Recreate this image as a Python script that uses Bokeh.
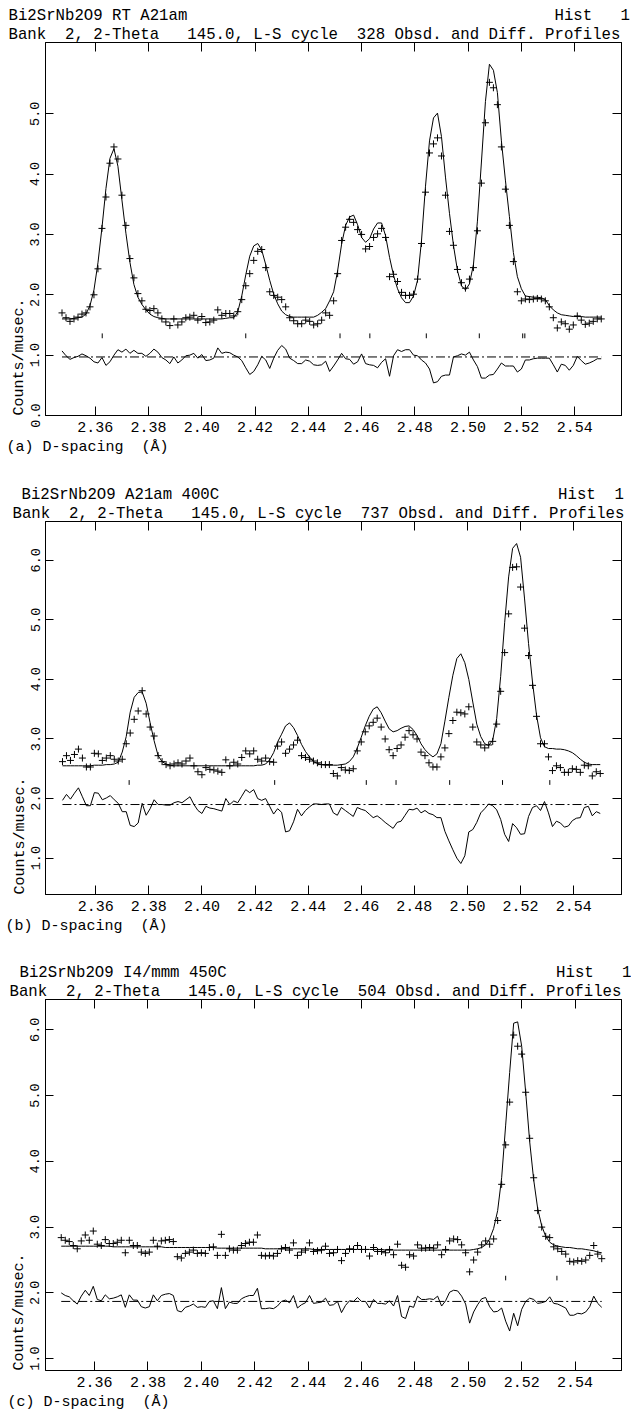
import re
import numpy as np
from bokeh.plotting import figure
from bokeh.layouts import column
from bokeh.models import Range1d, LinearAxis, FixedTicker, NumeralTickFormatter, Title
from bokeh.embed import file_html
from bokeh.resources import INLINE

# ---------------- data ----------------
D_START = 2.3475
D_STEP = 0.0015
X_TICKS = [2.36, 2.38, 2.40, 2.42, 2.44, 2.46, 2.48, 2.50, 2.52, 2.54]

# panel (a)  RT A21am
obs_a = [1.70, 1.62, 1.56, 1.60, 1.63, 1.68, 1.70, 1.80, 2.00, 2.43, 3.10, 3.62, 4.18, 4.45,
         4.25, 3.65, 3.15, 2.60, 2.28, 2.02, 1.90, 1.76, 1.74, 1.77, 1.70, 1.60,
         1.55, 1.49, 1.60, 1.50, 1.55, 1.62, 1.63, 1.66, 1.58, 1.64, 1.54, 1.55, 1.58, 1.75, 1.66, 1.69, 1.69, 1.65,
         1.72, 1.92, 2.15, 2.35, 2.57, 2.72, 2.75, 2.45, 2.05, 1.99, 1.96, 1.92, 1.80, 1.62, 1.57,
         1.52, 1.52, 1.58, 1.56,
         1.50, 1.52, 1.58, 1.70, 1.66, 1.90, 2.35, 2.90, 3.12, 3.25,
         3.20, 3.08, 3.00, 2.76, 2.80, 2.95, 3.01, 3.10, 2.95, 2.30, 2.34, 2.22, 2.04, 1.99, 1.99, 2.01,
         2.26, 2.85, 3.70, 4.35, 4.50, 4.60, 4.30, 3.65, 3.05, 2.82, 2.42, 2.20, 2.11,
         2.26, 2.45, 3.06, 3.85, 4.85, 5.52, 5.43, 5.15, 4.45, 3.75, 3.15, 2.55,
         2.05, 1.90, 1.93, 1.92, 1.93, 1.94, 1.93, 1.90, 1.80, 1.62, 1.45, 1.55, 1.52,
         1.43, 1.50, 1.65, 1.58, 1.51, 1.53, 1.56, 1.60, 1.60]
calc_a = [1.60, 1.60, 1.60, 1.61, 1.62, 1.63,
          1.68, 1.82, 2.08, 2.53, 3.11, 3.76, 4.26, 4.42,
          4.13, 3.57, 3.02, 2.54, 2.17, 1.96, 1.84, 1.75, 1.68, 1.64, 1.62, 1.61,
          1.60, 1.60, 1.60, 1.60, 1.60, 1.60, 1.60, 1.60, 1.60, 1.60, 1.60, 1.60, 1.60, 1.60, 1.60, 1.61, 1.62, 1.62,
          1.72, 1.98, 2.33, 2.64, 2.81, 2.85, 2.74, 2.50, 2.24, 2.01, 1.85, 1.73, 1.67, 1.64, 1.63,
          1.63, 1.63, 1.63, 1.63,
          1.63, 1.66, 1.71, 1.77, 1.90, 2.05, 2.40, 2.84, 3.15, 3.29,
          3.32, 3.16, 2.95, 2.87, 2.93, 3.09, 3.19, 3.19, 2.98, 2.62, 2.32, 2.10, 1.95, 1.87, 1.87, 1.98,
          2.24, 2.90, 3.80, 4.55, 4.93, 5.01, 4.62, 3.95, 3.35, 2.82, 2.40, 2.15, 2.08,
          2.18, 2.50, 3.22, 4.20, 5.20, 5.82, 5.72, 5.35, 4.55, 3.90, 3.30, 2.70,
          2.30, 2.10, 1.98, 1.97, 1.96, 1.96, 1.95, 1.92, 1.82, 1.75, 1.70, 1.67, 1.66,
          1.65, 1.64, 1.64, 1.64, 1.63, 1.63, 1.63, 1.63, 1.63]
refl_a = [2.3626, 2.4165, 2.4519, 2.4631, 2.4843, 2.5042, 2.5205, 2.5213]
diff_zero_a = 0.97
yticks_a = [0.0, 1.0, 2.0, 3.0, 4.0, 5.0]

# panel (b)  A21am 400C
obs_b = [2.62, 2.72, 2.64, 2.74, 2.83, 2.68, 2.53, 2.53, 2.76, 2.75, 2.64, 2.68, 2.72, 2.66,
         2.63, 2.66, 2.92, 3.10, 3.33, 3.47, 3.81, 3.42, 3.20, 3.05, 2.72, 2.62, 2.57, 2.55, 2.58,
         2.60, 2.58, 2.63, 2.68, 2.55, 2.45, 2.40, 2.52, 2.49, 2.48, 2.46, 2.44, 2.65, 2.55, 2.61, 2.58,
         2.69, 2.80, 2.75, 2.80, 2.66, 2.63,
         2.68, 2.62, 2.61, 2.88, 2.95, 2.76, 2.83, 2.90, 2.98, 2.72, 2.69, 2.66,
         2.63, 2.60, 2.57, 2.57, 2.57, 2.42, 2.38, 2.52, 2.48, 2.47, 2.50, 2.80, 2.95, 3.12, 3.22, 3.28, 3.35,
         3.20, 3.00, 2.82, 2.72, 2.84, 2.90, 3.03, 3.14, 3.07, 3.00, 2.78, 2.72, 2.60, 2.53, 2.53, 2.70,
         2.85, 3.09, 3.31, 3.45, 3.44, 3.42, 3.54, 3.20, 2.95, 2.90, 2.85, 2.90,
         2.96, 3.25, 3.80, 4.45, 5.10, 5.88, 5.89, 5.55, 4.86, 4.40, 3.90, 3.38, 2.92,
         2.92, 2.70, 2.47, 2.55, 2.52, 2.44, 2.44, 2.50, 2.49, 2.44, 2.56, 2.55, 2.38, 2.45, 2.42]
calc_b = [2.55, 2.55, 2.55, 2.55, 2.55, 2.55, 2.55, 2.55, 2.56, 2.56, 2.56, 2.57, 2.57, 2.58,
          2.61, 2.78, 3.04, 3.45, 3.70, 3.78, 3.79, 3.60, 3.27, 2.97, 2.72, 2.62, 2.58, 2.56, 2.55,
          2.55, 2.55, 2.55, 2.55, 2.55, 2.55, 2.55, 2.55, 2.55, 2.55, 2.55, 2.55, 2.55, 2.55, 2.55,
          2.55, 2.55, 2.55, 2.55, 2.55, 2.56, 2.56,
          2.58, 2.65, 2.77, 2.95, 3.08, 3.22, 3.27, 3.19, 3.06, 2.91, 2.79, 2.70,
          2.62, 2.59, 2.57, 2.56, 2.56, 2.56, 2.56, 2.57, 2.58, 2.62, 2.70, 2.85, 3.03, 3.22, 3.38, 3.50, 3.54,
          3.44, 3.30, 3.17, 3.12, 3.14, 3.18, 3.21, 3.22, 3.16, 3.06, 2.92, 2.82, 2.75, 2.70, 2.75, 2.92,
          3.30, 3.70, 4.07, 4.35, 4.43, 4.28, 4.00, 3.62, 3.25, 3.04, 2.92, 2.89,
          2.98, 3.34, 4.05, 4.95, 5.72, 6.20, 6.28, 6.05, 5.35, 4.60, 3.95, 3.40, 3.02,
          2.87, 2.84, 2.84, 2.83, 2.83, 2.82, 2.80, 2.77, 2.72, 2.66, 2.61, 2.58, 2.57, 2.57, 2.57]
refl_b = [2.3726, 2.4274, 2.4619, 2.4731, 2.4933, 2.5132, 2.5310]
diff_zero_b = 1.90
yticks_b = [1.0, 2.0, 3.0, 4.0, 5.0, 6.0]

# panel (c)  I4/mmm 450C
obs_c = [2.84, 2.80, 2.78, 2.72, 2.67, 2.79, 2.88, 2.80, 2.94, 2.74, 2.72, 2.81, 2.75, 2.75,
         2.77, 2.80, 2.61, 2.80, 2.72, 2.72, 2.62, 2.60, 2.62, 2.80, 2.71, 2.79, 2.80, 2.81, 2.78,
         2.55, 2.53, 2.60, 2.62, 2.65, 2.60, 2.61, 2.60, 2.69, 2.70, 2.57, 2.89, 2.57, 2.67, 2.65, 2.65,
         2.72, 2.75, 2.77, 2.77, 2.88, 2.57,
         2.56, 2.57, 2.56, 2.60, 2.67, 2.69, 2.65, 2.76, 2.57, 2.62, 2.65, 2.76,
         2.63, 2.64, 2.65, 2.71, 2.60, 2.61, 2.66, 2.49, 2.60, 2.67, 2.66, 2.72, 2.66, 2.66, 2.56, 2.69, 2.63,
         2.63, 2.61, 2.66, 2.58, 2.74, 2.42, 2.39, 2.58, 2.56, 2.73, 2.68, 2.68, 2.69, 2.68, 2.73, 2.58,
         2.66, 2.79, 2.82, 2.81, 2.73, 2.61, 2.32, 2.50, 2.62, 2.73, 2.79, 2.74,
         2.82, 3.10, 3.65, 4.25, 4.90, 5.92, 5.75, 5.63, 5.05, 4.35, 3.75, 3.25, 3.00,
         2.86, 2.84, 2.70, 2.67, 2.63, 2.59, 2.48, 2.47, 2.49, 2.48, 2.50, 2.57, 2.72, 2.59, 2.52]
calc_c = ([2.71] * 13 + [2.70] * 13 + [2.69] * 13 + [2.68] * 12 + [2.67] * 12 +
          [2.66] * 18 + [2.65] * 22 +
          [2.66, 2.67, 2.69, 2.73, 2.82, 2.98, 3.25, 3.75, 4.55, 5.35,
           6.10, 6.12, 5.75, 5.05, 4.30, 3.72, 3.28, 3.02, 2.86, 2.77,
           2.73, 2.71, 2.70, 2.69, 2.69, 2.68, 2.67, 2.67, 2.66, 2.65,
           2.64, 2.62, 2.61])
refl_c = [2.5140, 2.5332]
diff_zero_c = 1.87
yticks_c = [1.0, 2.0, 3.0, 4.0, 5.0, 6.0]

# ---------------- styling helpers ----------------
MONO = "Liberation Mono"
W = 631
HEAD = "15.7px"


def nb(s):
    return re.sub(r" {2,}", lambda m: "\u00a0" * (len(m.group()) - 1) + " ", s)


def title(p, text, where, offset, size=HEAD, standoff=0):
    p.add_layout(Title(text=nb(text), align="left", offset=offset, standoff=standoff,
                       text_font=MONO, text_font_size=size, text_font_style="normal",
                       text_color="black"), where)


def main_axis(ticks, fmt, standoff, size, vertical=False, tick_len=9):
    ax = LinearAxis(ticker=FixedTicker(ticks=ticks), formatter=NumeralTickFormatter(format=fmt))
    ax.major_tick_in = tick_len
    ax.major_tick_out = 0
    ax.minor_tick_line_color = None
    ax.axis_line_color = "black"
    ax.major_tick_line_color = "black"
    ax.major_label_text_font = MONO
    ax.major_label_text_color = "black"
    ax.major_label_text_font_size = size
    ax.major_label_standoff = standoff
    if vertical:
        ax.major_label_orientation = "vertical"
    return ax


def mirror_axis(ticks, tick_len=9):
    # only (unlabelled) marks: the tick values are given as minor ticks
    ax = LinearAxis(ticker=FixedTicker(ticks=[], minor_ticks=ticks))
    ax.major_tick_line_color = None
    ax.minor_tick_in = tick_len
    ax.minor_tick_out = 0
    ax.minor_tick_line_color = "black"
    ax.axis_line_color = "black"
    ax.major_label_standoff = 0
    return ax


def make_panel(obs, calc, refl, zero, refl_lo, refl_hi, xr, yr, yticks, height,
               borders, xstand, ystand, head1, head2, tag):
    left, top, right, bottom = borders
    p = figure(width=W, height=height, x_range=Range1d(*xr), y_range=Range1d(*yr),
               output_backend="svg", toolbar_location=None,
               x_axis_location=None, y_axis_location=None,
               min_border_left=left, min_border_top=top,
               min_border_right=right, min_border_bottom=bottom)
    p.grid.visible = False
    p.outline_line_color = "black"
    p.outline_line_width = 1
    p.background_fill_color = "white"
    p.border_fill_color = "white"

    p.add_layout(main_axis(X_TICKS, "0.00", xstand, "15px"), "below")
    p.add_layout(mirror_axis(X_TICKS), "above")
    p.add_layout(main_axis(yticks, "0.0", ystand, "13.5px", vertical=True, tick_len=8), "left")
    p.add_layout(mirror_axis(yticks), "right")

    n = min(len(obs), len(calc))
    obs = np.array(obs[:n])
    calc = np.array(calc[:n])
    x = D_START + D_STEP * np.arange(n)
    diff = obs - calc + zero

    p.line(x, calc, line_color="black", line_width=1)
    p.scatter(x, obs, marker="cross", size=7, line_color="black", line_width=1)
    p.line(x, diff, line_color="black", line_width=1)
    p.line([x[0], x[-1]], [zero, zero], line_color="black", line_width=1, line_dash="9 3 2 3")
    p.segment(x0=refl, x1=refl, y0=[refl_lo] * len(refl), y1=[refl_hi] * len(refl),
              line_color="black", line_width=1)

    # headings (above: first added is nearest the frame)
    title(p, head2[0], "above", head2[1], standoff=-2)
    title(p, head1[0], "above", head1[1])
    # x caption and y caption
    title(p, tag + " D-spacing  (Å)", "below", -left + 5, size="15px", standoff=4)
    title(p, "Counts/musec.", "left", 0, size="15px")
    return p


LINE2 = "Bank  2, 2-Theta   145.0, L-S cycle  {} Obsd. and Diff. Profiles"

pa = make_panel(obs_a, calc_a, refl_a, diff_zero_a, 1.28, 1.36,
                (2.3413, 2.5576), (0.0, 6.18), yticks_a, 462, (44, 42, 8, 47), 6, 6,
                ("Bi2SrNb2O9 RT A21am".ljust(58) + "Hist   1", -37),
                (LINE2.format(328), -37), "(a)")
pb = make_panel(obs_b, calc_b, refl_b, diff_zero_b, 2.23, 2.31,
                (2.3411, 2.5580), (0.39, 6.65), yticks_b, 483, (45, 59, 5, 51), 6, 5,
                ("Bi2SrNb2O9 A21am 400C".ljust(57) + "Hist  1", -24),
                (LINE2.format(737), -33), "(b)")
pc = make_panel(obs_c, calc_c, refl_c, diff_zero_c, 2.19, 2.26,
                (2.3416, 2.5574), (0.82, 6.46), yticks_c, 471, (43, 54, 10, 46), 6, 6,
                ("Bi2SrNb2O9 I4/mmm 450C".ljust(57) + "Hist   1", -26),
                (LINE2.format(504), -36), "(c)")

layout = column(pa, pb, pc, spacing=0)
open("out.html", "w").write(file_html(layout, INLINE))
